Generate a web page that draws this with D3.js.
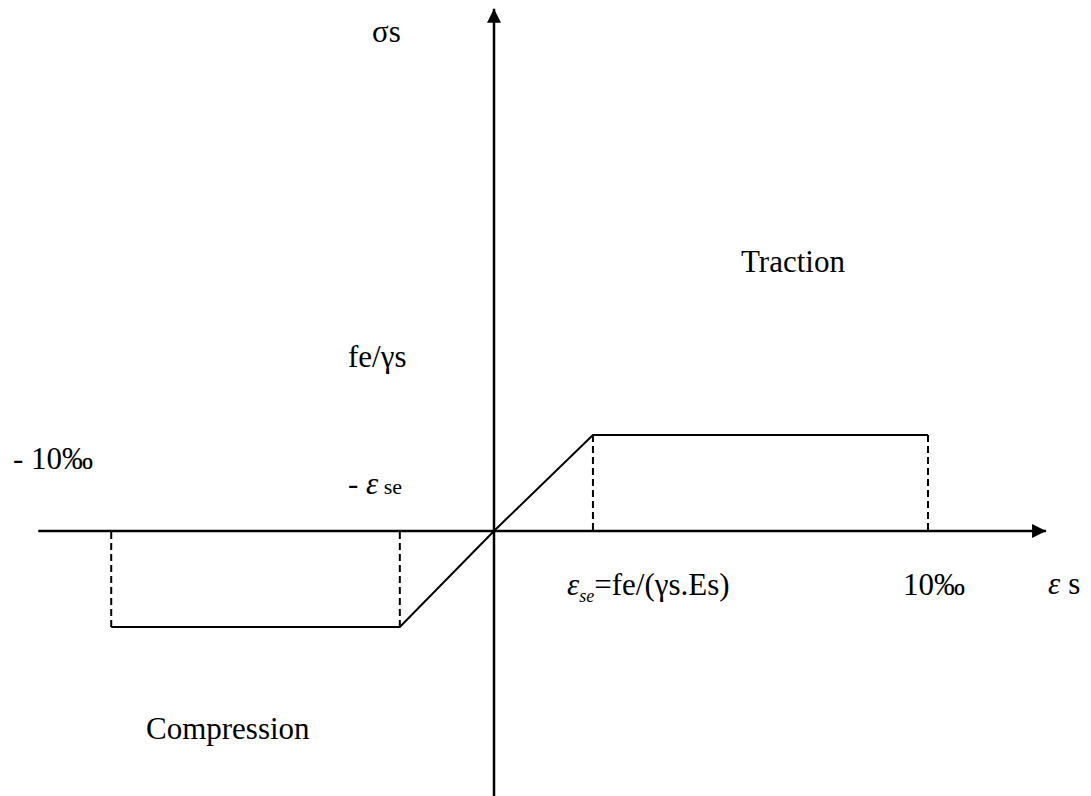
<!DOCTYPE html>
<html>
<head>
<meta charset="utf-8">
<script src="https://cdn.jsdelivr.net/npm/d3@7"></script>
<style>
  body { margin: 0; background: #fff; }
  text { font-family: 'Liberation Serif', 'Times New Roman', serif; fill: #000; }
</style>
</head>
<body>
<div class="canvas"></div>
<script>
// steel stress-strain diagram (values in ‰ and in units of fe/γs)
const strain = [-8.82, -2.17, 0, 2.28, 10]
const stress = [-1, -1, 0, 1, 1]
// points where a dashed drop line reaches the axis
const dropStrain = [-8.82, -2.17, 2.28, 10]
const dropStress = [-1, -1, 1, 1]
// axis extents
const strainExtent = [-10.5, 12.72]
const stressExtent = [-2.76, 5.44]

const dimensions = {
  width: 1091,
  height: 796,
}

const svg = d3
  .select('.canvas')
  .append('svg')
  .attr('width', dimensions.width)
  .attr('height', dimensions.height)

// scales: origin at (494, 531)
const x = d3.scaleLinear().domain([0, 10]).range([494, 928])
const y = d3.scaleLinear().domain([0, 1]).range([531, 435])

// arrow head
svg
  .append('defs')
  .append('marker')
  .attr('id', 'arrow')
  .attr('viewBox', '0 0 10 10')
  .attr('refX', 10)
  .attr('refY', 5)
  .attr('markerWidth', 15)
  .attr('markerHeight', 14)
  .attr('markerUnits', 'userSpaceOnUse')
  .attr('orient', 'auto')
  .append('path')
  .attr('d', 'M0,0 L10,5 L0,10 Z')
  .attr('fill', '#000')

// axes
svg
  .append('line')
  .attr('x1', x(strainExtent[0]))
  .attr('y1', y(0))
  .attr('x2', x(strainExtent[1]))
  .attr('y2', y(0))
  .attr('stroke', '#000')
  .attr('stroke-width', 2.5)
  .attr('marker-end', 'url(#arrow)')

svg
  .append('line')
  .attr('x1', x(0))
  .attr('y1', y(stressExtent[0]))
  .attr('x2', x(0))
  .attr('y2', y(stressExtent[1]))
  .attr('stroke', '#000')
  .attr('stroke-width', 2.5)
  .attr('marker-end', 'url(#arrow)')

// dashed drop lines
svg
  .selectAll('.drop')
  .data(dropStrain)
  .enter()
  .append('line')
  .attr('class', 'drop')
  .attr('x1', (d) => x(d))
  .attr('y1', (d, i) => y(dropStress[i]))
  .attr('x2', (d) => x(d))
  .attr('y2', y(0))
  .attr('stroke', '#000')
  .attr('stroke-width', 2)
  .attr('stroke-dasharray', '7 4')

// stress-strain curve
const line = d3
  .line()
  .x((d) => x(d[0]))
  .y((d) => y(d[1]))

svg
  .append('path')
  .datum(d3.zip(strain, stress))
  .attr('d', line)
  .attr('fill', 'none')
  .attr('stroke', '#000')
  .attr('stroke-width', 2)

// labels
const fontSize = 31

const label = (px, py, parts) => {
  const t = svg
    .append('text')
    .attr('x', px)
    .attr('y', py)
    .attr('font-size', fontSize)
  parts.forEach((p) => {
    const s = t.append('tspan').text(p.text)
    if (p.italic) s.attr('font-style', 'italic')
    if (p.size) s.attr('font-size', p.size)
    if (p.dx) s.attr('dx', p.dx)
    if (p.dy) s.attr('dy', p.dy)
  })
  return t
}

label(372, 42, [{ text: 'σs' }])
label(741, 272, [{ text: 'Traction' }])
label(348, 367, [{ text: 'fe/γs' }])
label(146, 739, [{ text: 'Compression' }])

label(13, 469, [{ text: '- 10‰' }])
label(903, 595, [{ text: '10‰' }])

label(348, 494, [
  { text: '- ' },
  { text: 'ε', italic: true },
  { text: ' se', size: 22 },
])

label(567, 595, [
  { text: 'ε', italic: true },
  { text: 'se', italic: true, size: 18, dy: 7 },
  { text: '=fe/(γs.Es)', dy: -7 },
])

label(1048, 594, [
  { text: 'ε', italic: true },
  { text: 's', dx: 8 },
])
</script>
</body>
</html>
